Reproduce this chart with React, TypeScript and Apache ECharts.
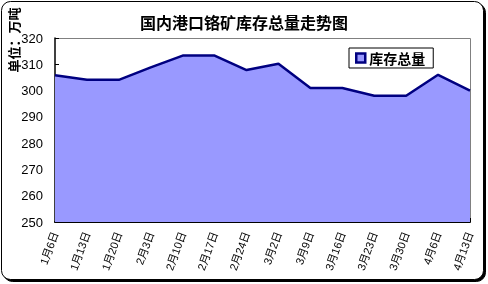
import React, { useEffect, useRef } from "react";
import * as echarts from "echarts";

const categories = ["1月6日", "1月13日", "1月20日", "2月3日", "2月10日", "2月17日", "2月24日", "3月2日", "3月9日", "3月16日", "3月23日", "3月30日", "4月6日", "4月13日"];
const stockTotal = [305.8, 304.1, 304.1, 308.8, 313.3, 313.3, 307.8, 310.2, 301, 301, 298, 298, 306, 300];
const seriesName = "库存总量";
const titleText = "国内港口铬矿库存总量走势图";
const unitText = "单位：万吨";

export default function App() {
  const ref = useRef<HTMLDivElement>(null);
  useEffect(() => {
    if (!ref.current) return;
    const chart = echarts.init(ref.current, undefined, { renderer: "svg" });
    chart.setOption({
      animation: false,
      backgroundColor: "transparent",
      title: {
        text: titleText,
        left: "center",
        top: 9,
        textStyle: { fontFamily: "Noto Sans CJK SC", fontSize: 16, fontWeight: "bold", color: "#000" },
      },
      legend: {
        data: [{ name: seriesName, icon: "rect", itemStyle: { color: "#9999ff", borderColor: "#000080", borderWidth: 2.5 } }],
        left: 349,
        top: 48,
        width: 87,
        height: 20,
        padding: [3, 8, 3, 6],
        backgroundColor: "#fff",
        borderColor: "#000",
        borderWidth: 1,
        itemWidth: 9,
        itemHeight: 9,
        itemGap: 2,
        textStyle: { fontFamily: "Noto Sans CJK SC", fontSize: 14, fontWeight: "bold", color: "#000", padding: [0, 0, 0, -1] },
      },
      graphic: [
        {
          type: "rect",
          z: -10,
          shape: { x: 3.5, y: 3.5, width: 482, height: 278, r: 9 },
          style: { fill: "#000", stroke: "#000", lineWidth: 1 },
          silent: true,
        },
        {
          type: "rect",
          z: -9,
          shape: { x: 1.5, y: 1.5, width: 482, height: 278, r: 9 },
          style: { fill: "#fff", stroke: "#000", lineWidth: 1 },
          silent: true,
        },
        {
          type: "text",
          x: 13,
          y: 40,
          rotation: Math.PI / 2,
          style: {
            text: unitText,
            fontFamily: "Noto Sans CJK SC",
            fontSize: 13,
            fontWeight: "bold",
            fill: "#000",
            align: "center",
            verticalAlign: "middle",
          },
        },
        {
          type: "line",
          shape: { x1: 55, y1: 38.5, x2: 470.5, y2: 38.5 },
          style: { stroke: "#808080", lineWidth: 1 },
        },
        {
          type: "line",
          shape: { x1: 470.5, y1: 38.5, x2: 470.5, y2: 222 },
          style: { stroke: "#808080", lineWidth: 1 },
        },
      ],
      grid: { left: 55, right: 18, top: 38, bottom: 62, containLabel: false },
      xAxis: {
        type: "category",
        data: categories,
        boundaryGap: false,
        axisLine: { show: true, lineStyle: { color: "#000", width: 2 } },
        axisTick: { show: true, inside: true, length: 4, lineStyle: { color: "#000" } },
        axisLabel: {
          interval: 0,
          rotate: 70,
          margin: 10,
          fontFamily: "Liberation Sans, Noto Sans CJK SC",
          fontSize: 11,
          color: "#000",
        },
        splitLine: { show: false },
      },
      yAxis: {
        type: "value",
        min: 250,
        max: 320,
        interval: 10,
        axisLine: { show: true, lineStyle: { color: "#000", width: 1.5 } },
        axisTick: { show: true, inside: true, length: 4, lineStyle: { color: "#000" } },
        axisLabel: {
          margin: 12,
          fontFamily: "Liberation Sans",
          fontSize: 13,
          color: "#000",
        },
        splitLine: { show: false },
      },
      series: [
        {
          name: seriesName,
          type: "line",
          data: stockTotal,
          symbol: "none",
          z: 1,
          lineStyle: { color: "#000080", width: 2.5 },
          itemStyle: { color: "#9999ff", borderColor: "#000080", borderWidth: 2.5 },
          areaStyle: { color: "#9999ff", opacity: 1 },
        },
      ],
    });
    return () => chart.dispose();
  }, []);
  return <div ref={ref} style={{ position: "fixed", left: 0, top: 0, width: 488, height: 284 }} />;
}
